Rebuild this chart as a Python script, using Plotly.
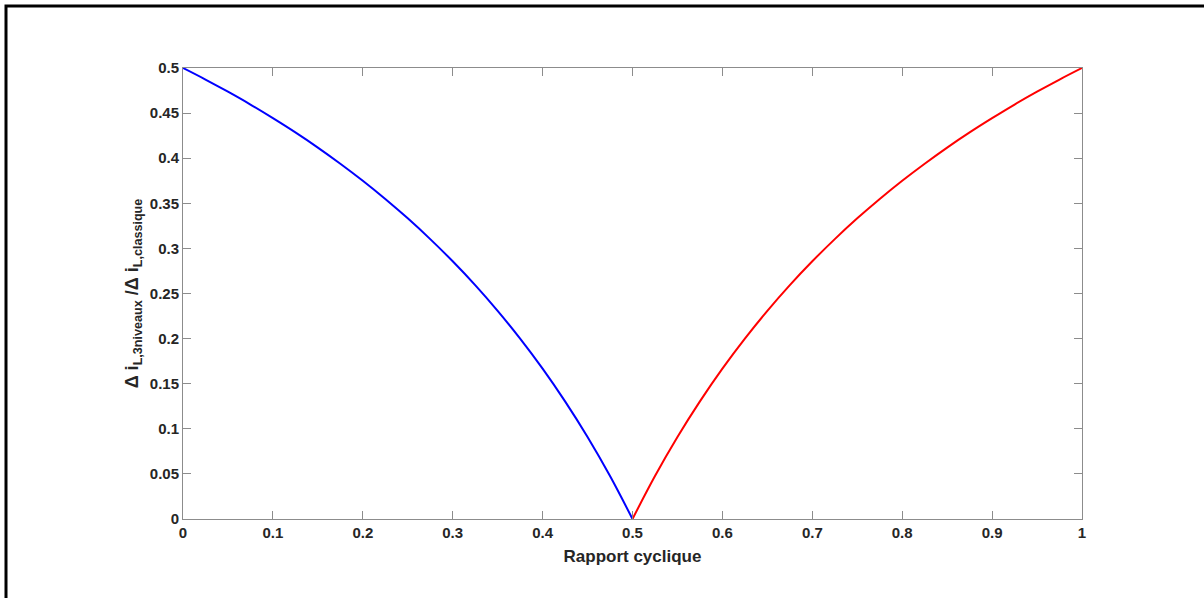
import plotly.graph_objects as go

# Duty cycle (rapport cyclique) and ripple ratio
d_low = [0.0, 0.025, 0.05, 0.075, 0.1, 0.125, 0.15, 0.175, 0.2, 0.225, 0.25,
         0.275, 0.3, 0.325, 0.35, 0.375, 0.4, 0.425, 0.45, 0.475, 0.5]
ratio_low = [0.5, 0.4872, 0.4737, 0.4595, 0.4444, 0.4286, 0.4118, 0.3939, 0.375, 0.3548, 0.3333,
             0.3103, 0.2857, 0.2593, 0.2308, 0.2, 0.1667, 0.1304, 0.0909, 0.0476, 0.0]

d_high = [0.5, 0.525, 0.55, 0.575, 0.6, 0.625, 0.65, 0.675, 0.7, 0.725, 0.75,
          0.775, 0.8, 0.825, 0.85, 0.875, 0.9, 0.925, 0.95, 0.975, 1.0]
ratio_high = [0.0, 0.0476, 0.0909, 0.1304, 0.1667, 0.2, 0.2308, 0.2593, 0.2857, 0.3103, 0.3333,
              0.3548, 0.375, 0.3939, 0.4118, 0.4286, 0.4444, 0.4595, 0.4737, 0.4872, 0.5]

x_ticks = [0, 0.1, 0.2, 0.3, 0.4, 0.5, 0.6, 0.7, 0.8, 0.9, 1]
y_ticks = [0, 0.05, 0.1, 0.15, 0.2, 0.25, 0.3, 0.35, 0.4, 0.45, 0.5]
y_tick_text = ["0", "0.05", "0.1", "0.15", "0.2", "0.25", "0.3", "0.35", "0.4", "0.45", "0.5"]

fig = go.Figure()
fig.add_trace(go.Scatter(x=d_low, y=ratio_low, mode="lines",
                         line=dict(color="#0000ff", width=2, shape="spline", smoothing=1.0),
                         showlegend=False))
fig.add_trace(go.Scatter(x=d_high, y=ratio_high, mode="lines",
                         line=dict(color="#ff0000", width=2, shape="spline", smoothing=1.0),
                         showlegend=False))

axis_common = dict(
    showline=True, linecolor="#8c8c8c", linewidth=1, mirror="allticks",
    ticks="inside", ticklen=8, tickwidth=1, tickcolor="#8c8c8c",
    showgrid=False, zeroline=False,
    tickfont=dict(family="Liberation Sans, Arial", size=15, color="#262626", weight="bold"),
)

fig.update_layout(
    width=1204, height=598,
    margin=dict(l=183, r=122, t=68, b=79),
    paper_bgcolor="white", plot_bgcolor="white",
    font=dict(family="Liberation Sans, Arial", color="#262626"),
    xaxis=dict(range=[0, 1], tickvals=x_ticks, ticktext=[str(v) for v in x_ticks],
               title=dict(text="<b>Rapport cyclique</b>", font=dict(size=17), standoff=10),
               **axis_common),
    yaxis=dict(range=[0, 0.5], tickvals=y_ticks, ticktext=y_tick_text,
               title=dict(text="<b>Δ i<sub>L,3niveaux</sub> /Δ i<sub>L,classique</sub></b>",
                          font=dict(size=18), standoff=6),
               **axis_common),
    shapes=[dict(type="rect", xref="paper", yref="paper",
                 x0=(6 - 183) / 899, x1=(1215 - 183) / 899,
                 y0=(519 - 610) / 451, y1=(519 - 6) / 451,
                 line=dict(color="black", width=3), fillcolor="rgba(0,0,0,0)",
                 layer="above")],
)

fig.write_html("out.html", config={"displayModeBar": False},
               post_script="document.body.style.margin='0';document.body.style.padding='0';")
